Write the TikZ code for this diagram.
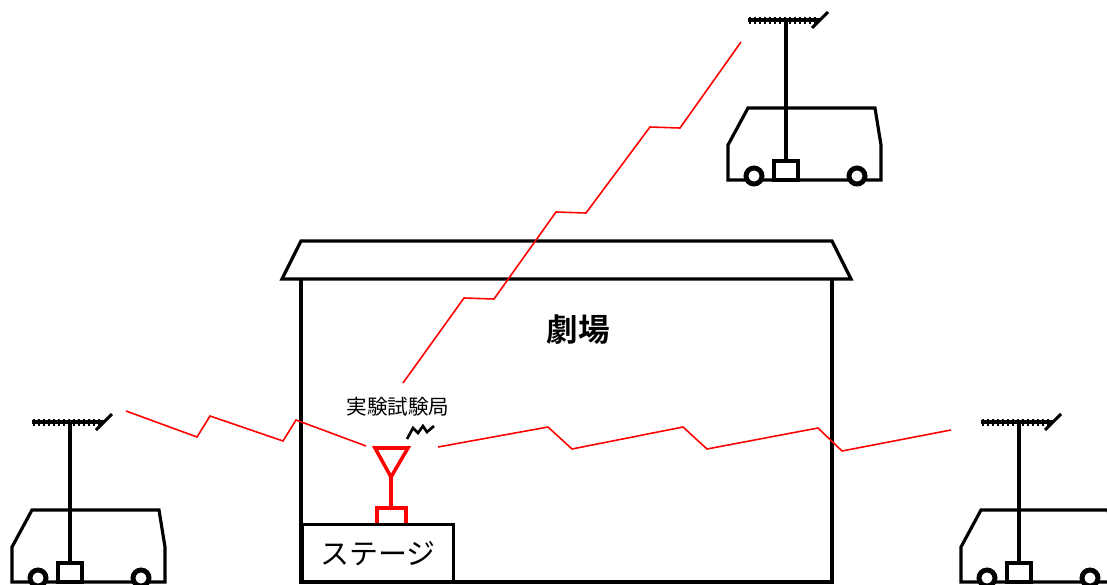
\documentclass[tikz,border=0pt]{standalone}
\usepackage{fontspec}
\newfontfamily\jp{Noto Sans CJK JP}[BoldFont={Noto Sans CJK JP Bold}]
\tikzset{
  wall/.style={line width=1.8pt, line join=miter},
  carline/.style={line width=1.8pt, line join=miter},
  mast/.style={line width=2.8pt},
  wave/.style={red, line width=0.9pt},
  aerial/.style={red, line width=2pt},
  % reception car with its roof aerial, origin at the left end of the floor
  pics/vehicle/.style={code={
    \draw[carline] (0,0) -- (0,-35) -- (20,-72) -- (147,-72) -- (153,-35) -- (153,0) -- cycle;
    \draw[line width=2.8pt, fill=white] (26,-4) circle[radius=0.16cm];
    \draw[line width=2.8pt, fill=white] (129,-4) circle[radius=0.16cm];
    \draw[mast] (58,-19) -- (58,-160);
    \draw[carline, fill=white] (46,0) rectangle (70,-19);
    \draw[line width=2.2pt] (20,-160) -- (92,-160);
    \foreach \t in {22,27,...,87}
      \draw[line width=0.7pt] (\t,-156.5) -- (\t,-163.5);
    \draw[line width=1.7pt] (84,-152) -- (100,-168);
  }}
}
\begin{document}
\begin{tikzpicture}[x=0.02cm, y={(0cm,-0.02cm)}, font=\jp]
  \useasboundingbox (0,0) rectangle (1107,585);

  % theatre
  \draw[wall] (282,279) -- (301,241) -- (832,241) -- (851,279) -- cycle;
  \draw[wall] (301,279) -- (301,582) -- (832,582) -- (832,279);
  \node (hall) at (578,330) {\fontsize{18pt}{18pt}\selectfont\bfseries 劇場};
  \node[draw, line width=1.8pt, minimum width=3.02cm, minimum height=1.16cm,
        inner sep=0pt, anchor=north west] (stage) at (301,523)
        {\fontsize{16.5pt}{16.5pt}\selectfont ステージ};

  % transmitting station on the stage
  \draw[aerial] (377,523) -- (377,508) -- (406,508) -- (406,523);
  \draw[aerial] (391,508) -- (391,477);
  \draw[aerial, line join=miter] (375,448) -- (408,448) -- (391,477) -- cycle;
  \node (station) at (398,407) {\fontsize{11.7pt}{11.7pt}\selectfont 実験試験局};
  \draw[line width=1.5pt] (407,439) -- (413,428) -- (418,433) -- (423,426)
    -- (427,432) -- (434,426);

  % cars
  \pic at (12,582) {vehicle};
  \pic at (728,180) {vehicle};
  \pic at (961,582) {vehicle};

  % radio paths
  \draw[wave] (366,446) -- (296,420) -- (283,441) -- (210,416) -- (197,437) -- (126,411);
  \draw[wave] (438,447) -- (548,427) -- (572,449) -- (683,427) -- (707,449)
    -- (818,428) -- (842,451) -- (951,430);
  \draw[wave] (403,383) -- (464,298) -- (494,299) -- (556,212) -- (586,213)
    -- (650,127) -- (680,128) -- (741,42);
\end{tikzpicture}
\end{document}
